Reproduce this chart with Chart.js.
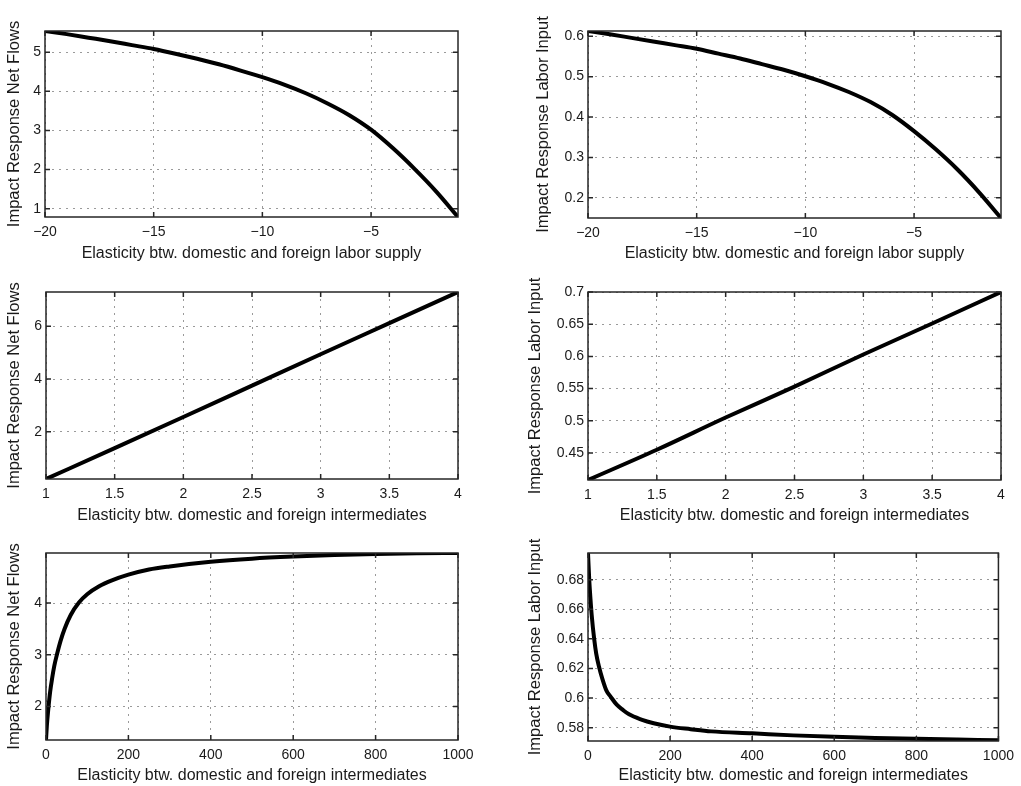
<!DOCTYPE html>
<html>
<head>
<meta charset="utf-8">
<script src="https://cdn.jsdelivr.net/npm/chart.js@4.4.1/dist/chart.umd.min.js"></script>
<style>
  body { margin: 0; background: #fff; }
  #wrap { position: relative; width: 1021px; height: 786px; }
  #wrap canvas { position: absolute; left: 0; top: 0; }
</style>
</head>
<body>
<div id="wrap">
  <canvas id="c1" width="1021" height="786"></canvas>
  <canvas id="c2" width="1021" height="786"></canvas>
  <canvas id="c3" width="1021" height="786"></canvas>
  <canvas id="c4" width="1021" height="786"></canvas>
  <canvas id="c5" width="1021" height="786"></canvas>
  <canvas id="c6" width="1021" height="786"></canvas>
</div>
<script>
// elasticity between domestic and foreign labor supply
var supplyX = [-20, -19, -18, -17, -16, -15, -14, -13, -12, -11, -10, -9, -8, -7, -6, -5, -4, -3, -2, -1];
var netFlowsSupply = [5.54, 5.46, 5.37, 5.28, 5.18, 5.08, 4.96, 4.83, 4.69, 4.53, 4.36, 4.17, 3.95, 3.69, 3.39, 3.02, 2.55, 2.02, 1.44, 0.79];
var laborSupply = [0.613, 0.605, 0.596, 0.587, 0.578, 0.569, 0.557, 0.545, 0.531, 0.517, 0.501, 0.483, 0.462, 0.437, 0.405, 0.365, 0.320, 0.270, 0.213, 0.150];

// elasticity between domestic and foreign intermediates, 1 to 4
var interX = [1, 1.5, 2, 2.5, 3, 3.5, 4];
var netFlowsInter = [0.21, 1.38, 2.56, 3.75, 4.94, 6.12, 7.3];
var laborInter = [0.408, 0.455, 0.505, 0.553, 0.603, 0.651, 0.70];

// elasticity between domestic and foreign intermediates, 0 to 1000
var wideX = [0, 2, 5, 10, 15, 20, 27, 35, 45, 60, 80, 100, 130, 160, 200, 250, 300, 400, 500, 600, 700, 800, 900, 1000];
var netFlowsWide = [1.35, 1.62, 1.9, 2.28, 2.55, 2.78, 3.02, 3.26, 3.5, 3.77, 4.01, 4.17, 4.33, 4.44, 4.55, 4.65, 4.71, 4.80, 4.86, 4.90, 4.93, 4.95, 4.963, 4.97];
var wideX6 = [0, 3, 6, 9, 15, 20, 27, 35, 45, 55, 70, 85, 100, 130, 160, 200, 250, 300, 400, 500, 600, 700, 800, 900, 1000];
var laborWide = [0.698, 0.680, 0.667, 0.656, 0.640, 0.630, 0.621, 0.613, 0.605, 0.601, 0.5955, 0.592, 0.589, 0.5855, 0.583, 0.5807, 0.579, 0.5775, 0.5762, 0.5748, 0.5738, 0.573, 0.5725, 0.572, 0.5715];

// tick labels
var supplyTicks = [-20, -15, -10, -5];
var interTicks = [1, 1.5, 2, 2.5, 3, 3.5, 4];
var wideTicks = [0, 200, 400, 600, 800, 1000];
var netSupplyTicks = [1, 2, 3, 4, 5];
var laborSupplyTicks = [0.2, 0.3, 0.4, 0.5, 0.6];
var netInterTicks = [2, 4, 6];
var laborInterTicks = [0.45, 0.5, 0.55, 0.6, 0.65, 0.7];
var netWideTicks = [2, 3, 4];
var laborWideTicks = [0.58, 0.6, 0.62, 0.64, 0.66, 0.68];

var xSupplyTitle = 'Elasticity btw. domestic and foreign labor supply';
var xInterTitle = 'Elasticity btw. domestic and foreign intermediates';
var yNetTitle = 'Impact Response Net Flows';
var yLaborTitle = 'Impact Response Labor Input';

var W = 1021, H = 786;
var FONT = "'Liberation Sans', Arial, Helvetica, sans-serif";
var TEXT = '#1a1a1a';

// frame around the plot area with small inward tick marks on all four sides
var framePlugin = {
    id: 'frame',
    afterDraw: function (chart) {
        var ctx = chart.ctx, a = chart.chartArea;
        var sx = chart.scales.x, sy = chart.scales.y;
        var len = 5;
        ctx.save();
        ctx.strokeStyle = '#262626';
        ctx.lineWidth = 1.5;
        ctx.beginPath();
        sx.ticks.forEach(function (t) {
            var px = sx.getPixelForValue(t.value);
            ctx.moveTo(px, a.bottom); ctx.lineTo(px, a.bottom - len);
            ctx.moveTo(px, a.top); ctx.lineTo(px, a.top + len);
        });
        sy.ticks.forEach(function (t) {
            var py = sy.getPixelForValue(t.value);
            ctx.moveTo(a.left, py); ctx.lineTo(a.left + len, py);
            ctx.moveTo(a.right, py); ctx.lineTo(a.right - len, py);
        });
        ctx.stroke();
        ctx.strokeRect(a.left, a.top, a.right - a.left, a.bottom - a.top);
        ctx.restore();
    }
};

function fmt(v) {
    return String(v).replace('-', '\u2212');
}

function makePanel(id, box, xs, ys, xr, yr, xTicks, yTicks, xTitle, yTitle) {
    var lhX = 16 * 1.2, lhY = 16.5 * 1.2;
    var padLeft = box.yTitleX - lhY / 2;
    var yWidth = box.l - padLeft;
    var xHeight = box.xTitleY + lhX / 2 - box.b;
    var padBottom = H - (box.xTitleY + lhX / 2);

    var points = xs.map(function (x, i) { return { x: x, y: ys[i] }; });

    return new Chart(document.getElementById(id).getContext('2d'), {
        type: 'line',
        data: {
            datasets: [{
                data: points,
                borderColor: '#000',
                borderWidth: 4,
                pointRadius: 0,
                fill: false,
                cubicInterpolationMode: 'monotone'
            }]
        },
        options: {
            responsive: false,
            animation: false,
            events: [],
            layout: {
                padding: { left: padLeft, top: box.t, right: W - box.r, bottom: padBottom }
            },
            plugins: {
                legend: { display: false },
                tooltip: { enabled: false }
            },
            scales: {
                x: {
                    type: 'linear',
                    min: xr[0],
                    max: xr[1],
                    afterBuildTicks: function (s) { s.ticks = xTicks.map(function (v) { return { value: v }; }); },
                    afterFit: function (s) { s.height = xHeight; },
                    grid: { color: '#9a9a9a', lineWidth: 1, drawTicks: false },
                    border: { display: false, dash: [2, 5] },
                    ticks: {
                        padding: 7,
                        color: TEXT,
                        maxRotation: 0,
                        autoSkip: false,
                        font: { family: FONT, size: 14 },
                        callback: function (v) { return fmt(v); }
                    },
                    title: {
                        display: true,
                        text: xTitle,
                        color: TEXT,
                        padding: 0,
                        font: { family: FONT, size: 16 }
                    }
                },
                y: {
                    type: 'linear',
                    min: yr[0],
                    max: yr[1],
                    afterBuildTicks: function (s) { s.ticks = yTicks.map(function (v) { return { value: v }; }); },
                    afterFit: function (s) { s.width = yWidth; },
                    grid: { color: '#9a9a9a', lineWidth: 1, drawTicks: false },
                    border: { display: false, dash: [2, 5] },
                    ticks: {
                        padding: 4,
                        color: TEXT,
                        autoSkip: false,
                        font: { family: FONT, size: 14 },
                        callback: function (v) { return fmt(v); }
                    },
                    title: {
                        display: true,
                        text: yTitle,
                        color: TEXT,
                        padding: 0,
                        font: { family: FONT, size: 16.5 }
                    }
                }
            }
        },
        plugins: [framePlugin]
    });
}

// Top row: labor supply elasticity
makePanel('c1', { l: 45, t: 31, r: 458, b: 217, yTitleX: 14, xTitleY: 253.5 },
    supplyX, netFlowsSupply, [-20, -1], [0.79, 5.54], supplyTicks, netSupplyTicks, xSupplyTitle, yNetTitle);
makePanel('c2', { l: 588, t: 31, r: 1001, b: 218, yTitleX: 543, xTitleY: 253.5 },
    supplyX, laborSupply, [-20, -1], [0.15, 0.613], supplyTicks, laborSupplyTicks, xSupplyTitle, yLaborTitle);

// Middle row: intermediates elasticity 1 to 4
makePanel('c3', { l: 46, t: 292, r: 458, b: 479, yTitleX: 14, xTitleY: 516 },
    interX, netFlowsInter, [1, 4], [0.21, 7.3], interTicks, netInterTicks, xInterTitle, yNetTitle);
makePanel('c4', { l: 588, t: 292, r: 1001, b: 480, yTitleX: 535, xTitleY: 516 },
    interX, laborInter, [1, 4], [0.408, 0.70], interTicks, laborInterTicks, xInterTitle, yLaborTitle);

// Bottom row: intermediates elasticity 0 to 1000
makePanel('c5', { l: 46, t: 553, r: 458, b: 740, yTitleX: 14, xTitleY: 776 },
    wideX, netFlowsWide, [0, 1000], [1.35, 4.97], wideTicks, netWideTicks, xInterTitle, yNetTitle);
makePanel('c6', { l: 588, t: 553, r: 1001, b: 741, yTitleX: 535, xTitleY: 776 },
    wideX6, laborWide, [0, 1000], [0.571, 0.698], wideTicks, laborWideTicks, xInterTitle, yLaborTitle);
</script>
</body>
</html>
